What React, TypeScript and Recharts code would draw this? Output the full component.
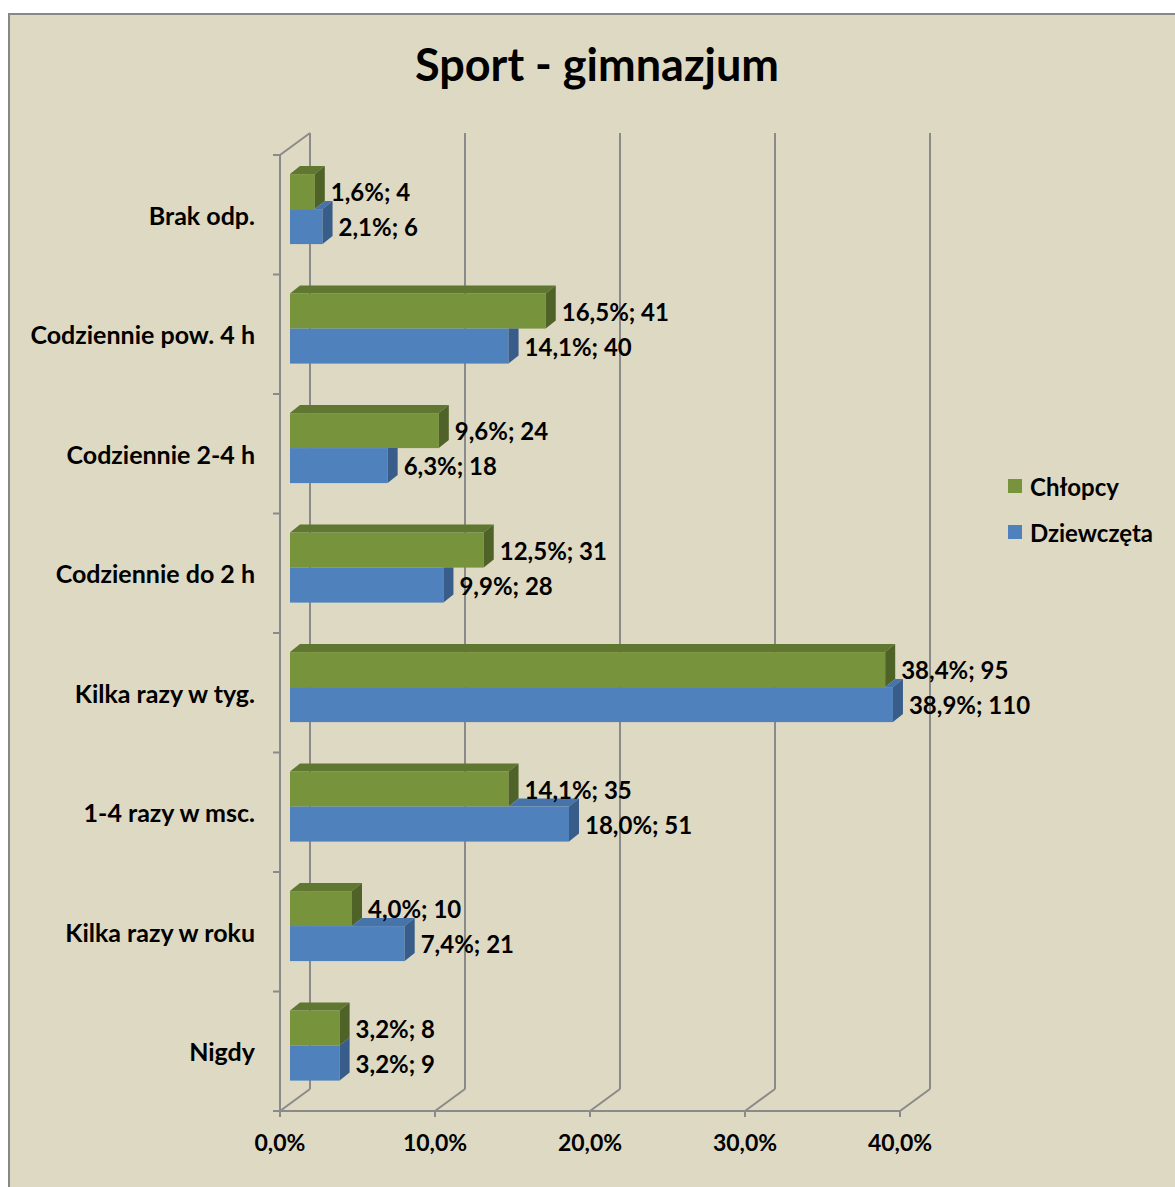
import React from 'react';
import { BarChart, Bar, XAxis, YAxis, CartesianGrid, Legend, LabelList } from 'recharts';

const CATEGORIES = [
  'Brak odp.',
  'Codziennie pow. 4 h',
  'Codziennie 2-4 h',
  'Codziennie do 2 h',
  'Kilka razy w tyg.',
  '1-4 razy w msc.',
  'Kilka razy w roku',
  'Nigdy',
];
const BOYS_PCT = [1.6, 16.5, 9.6, 12.5, 38.4, 14.1, 4.0, 3.2];
const BOYS_N = [4, 41, 24, 31, 95, 35, 10, 8];
const GIRLS_PCT = [2.1, 14.1, 6.3, 9.9, 38.9, 18.0, 7.4, 3.2];
const GIRLS_N = [6, 40, 18, 28, 110, 51, 21, 9];
const X_TICKS = [0, 10, 20, 30, 40];

const data = CATEGORIES.map((cat, i) => ({ cat, boys: BOYS_PCT[i], girls: GIRLS_PCT[i] }));

// layout (svg coords)
const W = 1165;
const H = 1172;
const PLOT_LEFT = 280;
const PLOT_TOP = 134;
const PLOT_W = 620;
const PLOT_H = 956;
const BAND = PLOT_H / CATEGORIES.length;
const FX = -10; // front plane offset
const FY = 6;
const BX = 20; // back wall offset
const BY = -16;
const DX = 10; // bar depth
const DY = 8;

const FONT = 'Lato, "Open Sans", sans-serif';
const GRID = '#8A8A8A';
const BG = '#DDD9C3';

const GREEN = { front: '#77933C', top: '#5F7731', side: '#4F6228' };
const BLUE = { front: '#4F81BD', top: '#4673AA', side: '#385D8A' };

const fmt = (v: number) => v.toFixed(1).replace('.', ',') + '%';

const GreenBar = (props: any) => {
  const { x, y, width, height } = props;
  const r = x + width;
  return (
    <g>
      <rect x={x} y={y} width={width} height={height} fill={GREEN.front} />
      <polygon points={`${x},${y} ${x + DX},${y - DY} ${r + DX},${y - DY} ${r},${y}`} fill={GREEN.top} />
      <polygon points={`${r},${y} ${r + DX},${y - DY} ${r + DX},${y + height - DY} ${r},${y + height}`} fill={GREEN.side} />
    </g>
  );
};

const BlueBar = (props: any) => {
  const { x, y, width, height, payload } = props;
  const r = x + width;
  const perUnit = payload.girls ? width / payload.girls : 0;
  const g = x + payload.boys * perUnit;
  const side =
    r >= g
      ? `${r},${y} ${r + DX},${y - DY} ${r + DX},${y + height - DY} ${r},${y + height}`
      : `${r},${y} ${r + DX},${y} ${r + DX},${y + height - DY} ${r},${y + height}`;
  return (
    <g>
      <rect x={x} y={y} width={width} height={height} fill={BLUE.front} />
      {r > g && (
        <polygon points={`${g},${y} ${r},${y} ${r + DX},${y - DY} ${g + DX},${y - DY}`} fill={BLUE.top} />
      )}
      <polygon points={side} fill={BLUE.side} />
    </g>
  );
};

const makeLabel = (pcts: number[], counts: number[]) => (props: any) => {
  const { x, y, width, height, index } = props;
  return (
    <text
      x={x + width + DX + 6}
      y={y + height / 2}
      dominantBaseline="central"
      fontFamily={FONT}
      fontWeight={700}
      fontSize={24}
      fill="#000"
    >
      {`${fmt(pcts[index])}; ${counts[index]}`}
    </text>
  );
};

const gridVertical = (props: any) => {
  const { x1, y1, y2, index } = props;
  const bx = x1 + BX;
  return (
    <g key={`vg-${index}-${x1}`}>
      <line x1={bx} y1={y1 + BY} x2={bx} y2={y2 + BY} stroke={GRID} strokeWidth={2} />
      <line x1={x1 + FX} y1={y2 + FY} x2={bx} y2={y2 + BY} stroke={GRID} strokeWidth={2} />
    </g>
  );
};

const XTick = (props: any) => {
  const { x, payload } = props;
  const fx = x + FX;
  const fb = PLOT_TOP + PLOT_H + FY;
  return (
    <g>
      {payload.value === 0 && (
        <line x1={fx} y1={fb} x2={fx + PLOT_W} y2={fb} stroke={GRID} strokeWidth={2} />
      )}
      <line x1={fx} y1={fb} x2={fx} y2={fb + 6} stroke={GRID} strokeWidth={2} />
      <text x={fx} y={fb + 40} textAnchor="middle" fontFamily={FONT} fontWeight={700} fontSize={23} fill="#000">
        {fmt(payload.value)}
      </text>
    </g>
  );
};

const YTick = (props: any) => {
  const { y, payload, index } = props;
  const fx = PLOT_LEFT + FX;
  const ft = PLOT_TOP + FY;
  return (
    <g>
      {index === 0 && (
        <g>
          <line x1={fx} y1={ft} x2={fx} y2={ft + PLOT_H} stroke={GRID} strokeWidth={2} />
          <line x1={fx} y1={ft} x2={PLOT_LEFT + BX} y2={PLOT_TOP + BY} stroke={GRID} strokeWidth={2} />
          {CATEGORIES.map((c, i) => (
            <line key={c} x1={fx - 7} y1={ft + i * BAND} x2={fx} y2={ft + i * BAND} stroke={GRID} strokeWidth={2} />
          ))}
          <line x1={fx - 7} y1={ft + PLOT_H} x2={fx} y2={ft + PLOT_H} stroke={GRID} strokeWidth={2} />
        </g>
      )}
      <text
        x={PLOT_LEFT - 35}
        y={y + FY}
        textAnchor="end"
        dominantBaseline="central"
        fontFamily={FONT}
        fontWeight={700}
        fontSize={25}
        fill="#000"
      >
        {payload.value}
      </text>
    </g>
  );
};

const renderLegend = (props: any) => {
  const { payload } = props;
  return (
    <div style={{ fontFamily: FONT, fontWeight: 700, fontSize: 24, color: '#000' }}>
      {(payload || []).map((p: any) => (
        <div key={p.value} style={{ height: 46, display: 'flex', alignItems: 'center' }}>
          <span style={{ width: 14, height: 14, background: p.color, display: 'inline-block', marginRight: 8 }} />
          <span>{p.value}</span>
        </div>
      ))}
    </div>
  );
};

export default function App() {
  return (
    <div style={{ position: 'fixed', left: 0, top: 0, width: 1175, height: 1187, overflow: 'hidden', background: '#fff' }}>
      <div
        style={{
          position: 'absolute',
          left: 8,
          top: 13,
          width: 1167,
          height: 1174,
          boxSizing: 'border-box',
          borderLeft: '2px solid #878787',
          borderTop: '2px solid #878787',
          background: BG,
        }}
      >
        <svg width={W} height={100} style={{ position: 'absolute', left: 0, top: 0 }}>
          <text x={587} y={66} textAnchor="middle" fontFamily={FONT} fontWeight={700} fontSize={45} fill="#000">
            Sport - gimnazjum
          </text>
        </svg>
        <BarChart
          width={W}
          height={H}
          data={data}
          layout="vertical"
          margin={{ top: PLOT_TOP, right: W - PLOT_LEFT - PLOT_W, bottom: H - PLOT_TOP - PLOT_H - 50, left: PLOT_LEFT - 250 }}
          barCategoryGap="21%"
          barGap={0}
        >
          <CartesianGrid horizontal={false} vertical={gridVertical} zIndex={-200} />
          <XAxis
            type="number"
            domain={[0, 40]}
            ticks={X_TICKS}
            axisLine={false}
            tickLine={false}
            tick={<XTick />}
            height={50}
            interval={0}
          />
          <YAxis
            type="category"
            dataKey="cat"
            width={250}
            axisLine={false}
            tickLine={false}
            tick={<YTick />}
            interval={0}
          />
          <Legend
            layout="vertical"
            verticalAlign="middle"
            align="center"
            content={renderLegend}
            wrapperStyle={{ position: 'absolute', left: 998, top: 448, width: 170 }}
          />
          <Bar dataKey="boys" name="Chłopcy" fill={GREEN.front} shape={GreenBar} isAnimationActive={false}>
            <LabelList dataKey="boys" content={makeLabel(BOYS_PCT, BOYS_N)} isAnimationActive={false} />
          </Bar>
          <Bar dataKey="girls" name="Dziewczęta" fill={BLUE.front} shape={BlueBar} isAnimationActive={false}>
            <LabelList dataKey="girls" content={makeLabel(GIRLS_PCT, GIRLS_N)} isAnimationActive={false} />
          </Bar>
        </BarChart>
      </div>
    </div>
  );
}
